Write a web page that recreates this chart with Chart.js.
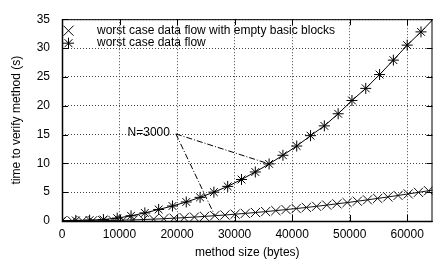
<!DOCTYPE html>
<html>
<head>
<meta charset="utf-8">
<script src="https://cdn.jsdelivr.net/npm/chart.js@4/dist/chart.umd.min.js"></script>
<style>
  html, body { margin: 0; padding: 0; background: #fff; }
  #chart { display: block; }
</style>
</head>
<body>
<canvas id="chart" width="440" height="261"></canvas>
<script>
// --- DATA ---
const labelEmpty = 'worst case data flow with empty basic blocks';
const labelFlow = 'worst case data flow';

// method size (bytes) / time (s), "empty basic blocks" series (x marks)
const sizesEmpty = [0, 1770, 3540, 5310, 7080, 8850, 10620, 12390, 14160, 15930,
    17700, 19470, 21240, 23010, 24780, 26550, 28320, 30090, 31860, 33630,
    35400, 37170, 38940, 40710, 42480, 44250, 46020, 47790, 49560, 51330,
    53100, 54870, 56640, 58410, 60180, 61950, 63720, 65490];
const timesEmpty = [0.00, 0.01, 0.02, 0.04, 0.07, 0.10, 0.14, 0.19, 0.25, 0.32,
    0.40, 0.49, 0.58, 0.68, 0.80, 0.92, 1.04, 1.18, 1.32, 1.47,
    1.63, 1.80, 1.98, 2.16, 2.35, 2.55, 2.76, 2.98, 3.20, 3.43,
    3.67, 3.92, 4.17, 4.43, 4.70, 4.97, 5.25, 5.54];

// "worst case data flow" series (asterisks)
const sizesFlow = [0, 2400, 4800, 7200, 9600, 12000, 14400, 16800, 19200, 21600,
    24000, 26400, 28800, 31200, 33600, 36000, 38400, 40800, 43200, 45600,
    48000, 50400, 52800, 55200, 57600, 60000, 62400, 64800];
const timesFlow = [0.05, 0.1, 0.15, 0.25, 0.5, 0.9, 1.4, 2.0, 2.6, 3.3,
    4.1, 5.0, 6.0, 7.2, 8.5, 9.9, 11.4, 13.0, 14.8, 16.5,
    18.6, 20.9, 23.0, 25.4, 27.9, 30.5, 32.8, 35.3];

// annotation "N=3000": start point and the two points it points to
const noteText = 'N=3000';
const noteStart = { x: 19800, y: 15.1 };
const noteTargets = [{ x: 36000, y: 9.9 }, { x: 26550, y: 0.95 }];

const xTicks = [0, 10000, 20000, 30000, 40000, 50000, 60000];
const yTicks = [0, 5, 10, 15, 20, 25, 30, 35];

const FONT = '"Liberation Sans", Arial, Helvetica, sans-serif';
Chart.defaults.font.family = FONT;
Chart.defaults.font.size = 12;
Chart.defaults.color = '#000';

// --- MARKERS ---
function drawX(ctx, x, y, r) {
    ctx.beginPath();
    ctx.moveTo(x - r, y - r); ctx.lineTo(x + r, y + r);
    ctx.moveTo(x - r, y + r); ctx.lineTo(x + r, y - r);
    ctx.stroke();
}
function drawStar(ctx, x, y, r) {
    drawX(ctx, x, y, r * 0.72);
    ctx.beginPath();
    ctx.moveTo(x - r, y); ctx.lineTo(x + r, y);
    ctx.moveTo(x, y - r); ctx.lineTo(x, y + r);
    ctx.stroke();
}

// --- FRAME, INNER TICKS, NOTE, LEGEND ---
const gnuplotLook = {
    id: 'gnuplotLook',
    afterDatasetsDraw(chart) {
        const { ctx, chartArea: a, scales } = chart;
        ctx.save();
        ctx.strokeStyle = '#000';
        ctx.lineWidth = 1;
        ctx.setLineDash([]);

        // inward ticks on all four sides
        ctx.beginPath();
        xTicks.forEach(v => {
            const px = Math.round(scales.x.getPixelForValue(v)) + 0.5;
            ctx.moveTo(px, a.bottom); ctx.lineTo(px, a.bottom - 6);
            ctx.moveTo(px, a.top); ctx.lineTo(px, a.top + 6);
        });
        yTicks.forEach(v => {
            const py = Math.round(scales.y.getPixelForValue(v)) + 0.5;
            ctx.moveTo(a.left, py); ctx.lineTo(a.left + 6, py);
            ctx.moveTo(a.right, py); ctx.lineTo(a.right - 6, py);
        });
        ctx.stroke();

        // frame
        ctx.strokeRect(a.left + 0.5, a.top + 0.5, a.right - a.left - 1, a.bottom - a.top);
        ctx.lineWidth = 1.5;
        ctx.beginPath();
        ctx.moveTo(a.left + 0.5, a.top);
        ctx.lineTo(a.left + 0.5, a.bottom + 0.5);
        ctx.lineTo(a.right, a.bottom + 0.5);
        ctx.stroke();

        // note text
        ctx.font = '12px ' + FONT;
        ctx.fillStyle = '#000';
        ctx.textAlign = 'right';
        ctx.textBaseline = 'middle';
        ctx.fillText(noteText, scales.x.getPixelForValue(noteStart.x) - 6,
            scales.y.getPixelForValue(noteStart.y) - 1);

        // legend
        ctx.lineWidth = 1;
        ctx.textAlign = 'left';
        const lx = a.left + 6.5;
        const tx = a.left + 35;
        drawX(ctx, lx, a.top + 11.5, 5);
        ctx.fillText(labelEmpty, tx, a.top + 11);
        drawStar(ctx, lx, a.top + 24, 5.5);
        ctx.fillText(labelFlow, tx, a.top + 23.5);
        ctx.restore();
    }
};

// --- CHART ---
const toPoints = (xs, ys) => xs.map((x, i) => ({ x: x, y: ys[i] }));

const noteStyle = {
    borderColor: '#000',
    borderWidth: 1,
    borderDash: [6, 2, 1, 2],
    pointRadius: 0,
    fill: false
};

new Chart(document.getElementById('chart'), {
    type: 'line',
    data: {
        datasets: [
            {
                label: labelEmpty,
                data: toPoints(sizesEmpty, timesEmpty),
                borderColor: '#111',
                borderWidth: 1,
                pointStyle: 'crossRot',
                pointRadius: 6.5,
                pointBorderColor: '#111',
                pointBorderWidth: 1,
                fill: false
            },
            {
                label: labelFlow,
                data: toPoints(sizesFlow, timesFlow),
                borderColor: '#000',
                borderWidth: 1,
                pointStyle: 'star',
                pointRadius: 5.5,
                pointBorderColor: '#000',
                pointBorderWidth: 1,
                fill: false
            },
            Object.assign({ label: 'note1', data: [noteStart, noteTargets[0]] }, noteStyle),
            Object.assign({ label: 'note2', data: [noteStart, noteTargets[1]] }, noteStyle)
        ]
    },
    options: {
        responsive: false,
        animation: false,
        devicePixelRatio: 1,
        layout: { padding: { top: 12, right: 1, left: 0, bottom: 0 } },
        plugins: { legend: { display: false }, tooltip: { enabled: false } },
        scales: {
            x: {
                type: 'linear',
                min: 0,
                max: 64400,
                afterFit: s => { s.height = 40; },
                afterBuildTicks: s => { s.ticks = xTicks.map(v => ({ value: v })); },
                ticks: { padding: 6, maxRotation: 0, font: { size: 12 }, color: '#000', callback: v => String(v) },
                grid: { color: '#444', drawTicks: false, lineWidth: 1 },
                border: { display: false, dash: [1, 2] },
                title: { display: true, text: 'method size (bytes)', font: { size: 12 }, color: '#000', padding: { top: 0, bottom: 1 } }
            },
            y: {
                type: 'linear',
                min: 0,
                max: 35,
                afterFit: s => { s.width = 62; },
                afterBuildTicks: s => { s.ticks = yTicks.map(v => ({ value: v })); },
                ticks: { padding: 12, font: { size: 12 }, color: '#000', callback: v => String(v) },
                grid: { color: '#444', drawTicks: false, lineWidth: 1 },
                border: { display: false, dash: [1, 2] },
                title: { display: true, text: 'time to verify method (s)', font: { size: 12 }, color: '#000', padding: { top: 9, bottom: 0 } }
            }
        }
    },
    plugins: [gnuplotLook]
});
</script>
</body>
</html>
